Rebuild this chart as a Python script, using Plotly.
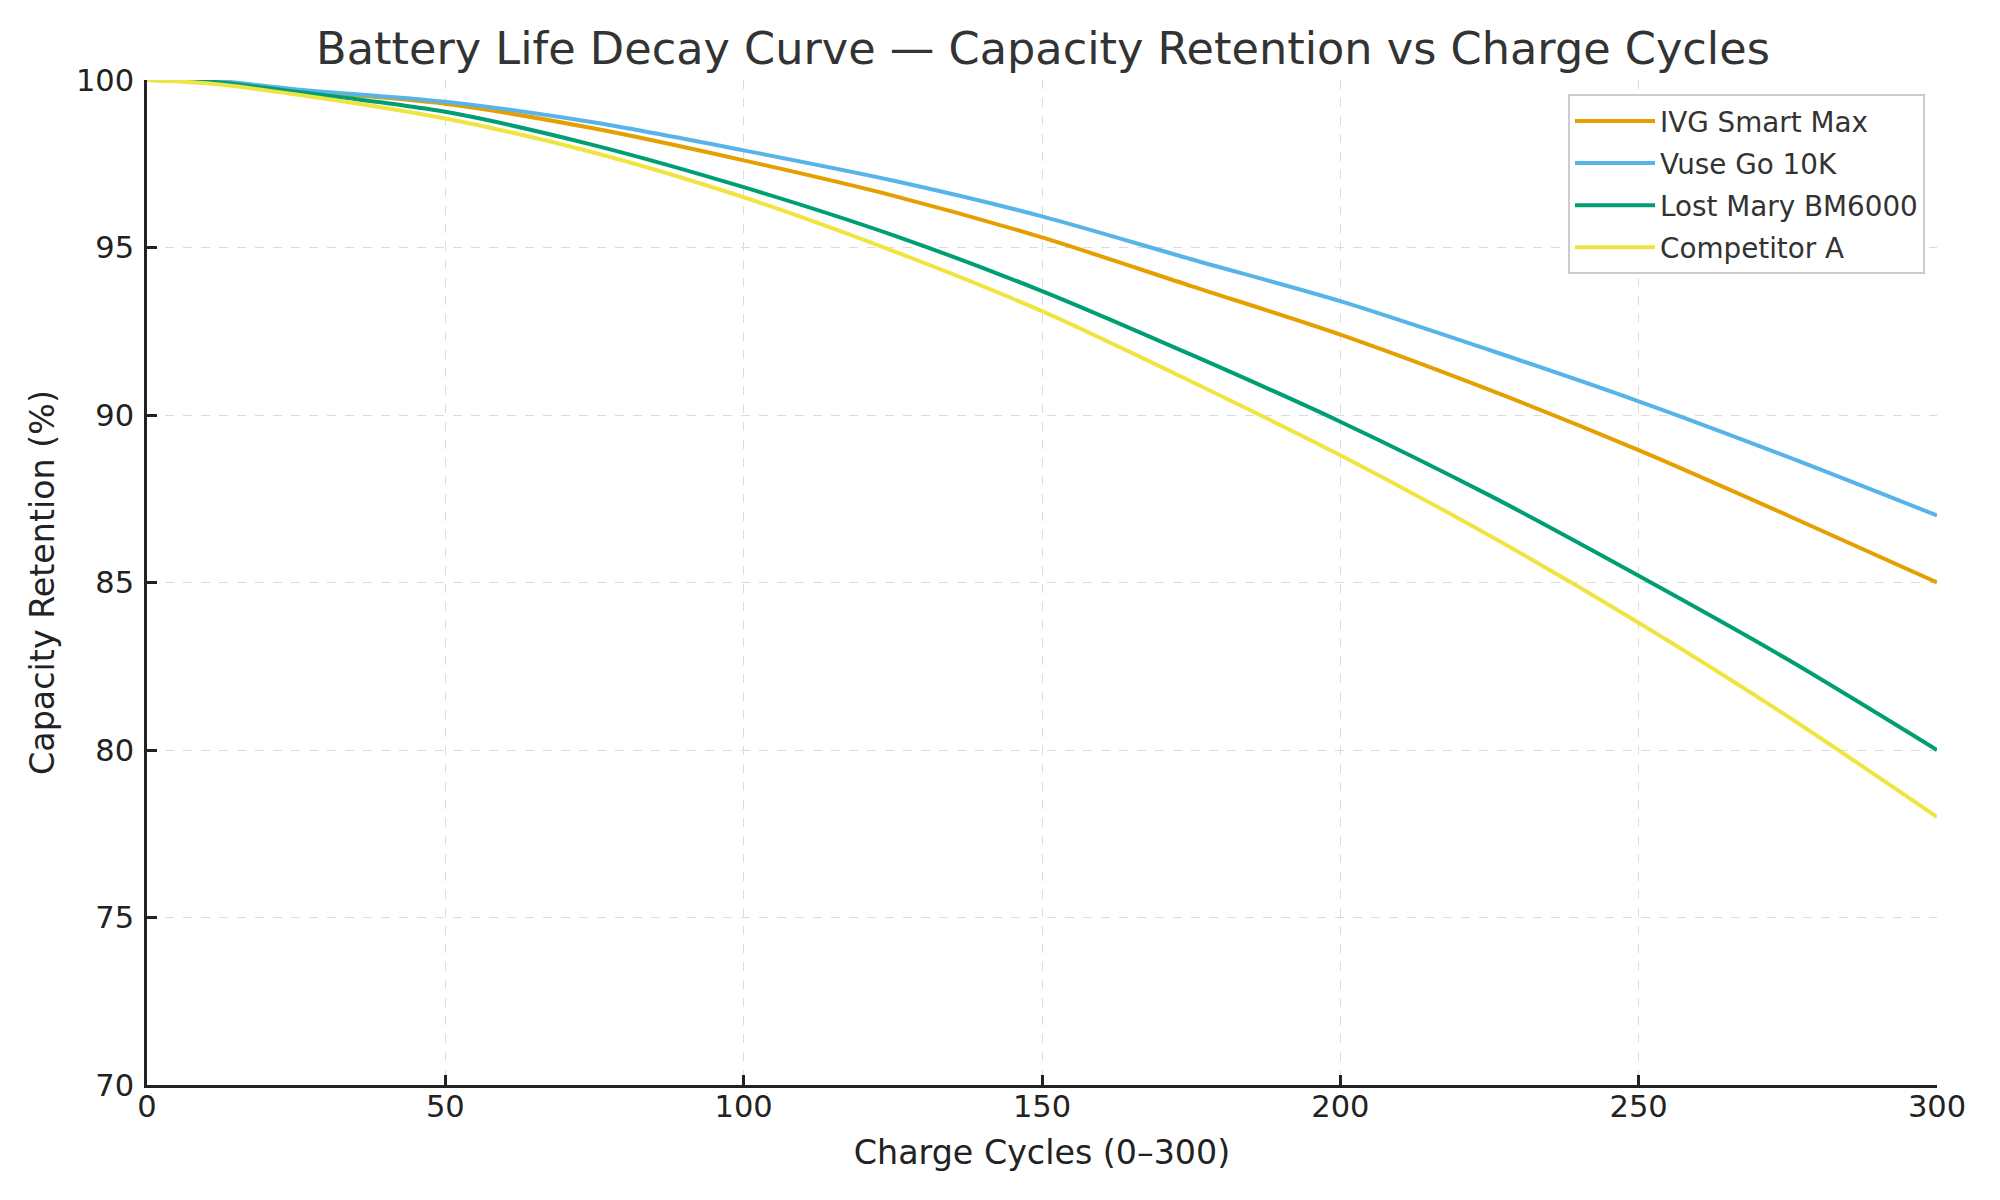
import plotly.graph_objects as go

cycles = [0, 10, 25, 50, 75, 100, 125, 150, 175, 200, 225, 250, 275, 300]
ivg_smart_max = [100, 99.97, 99.69, 99.29, 98.55, 97.6, 96.55, 95.3, 93.85, 92.4, 90.75, 88.95, 87.0, 85.0]
vuse_go_10k = [100, 100.0, 99.72, 99.35, 98.73, 97.9, 97.0, 95.93, 94.65, 93.4, 91.94, 90.41, 88.75, 87.0]
lost_mary_bm6000 = [100, 99.96, 99.65, 99.05, 98.05, 96.8, 95.37, 93.7, 91.8, 89.8, 87.6, 85.2, 82.7, 80.0]
competitor_a = [100, 99.9, 99.57, 98.85, 97.83, 96.5, 94.9, 93.1, 91.0, 88.8, 86.4, 83.8, 81.0, 78.0]

series = [
    ("IVG Smart Max", ivg_smart_max, "#E69F00"),
    ("Vuse Go 10K", vuse_go_10k, "#56B4E9"),
    ("Lost Mary BM6000", lost_mary_bm6000, "#009E73"),
    ("Competitor A", competitor_a, "#F0E442"),
]

x_ticks = [0, 50, 100, 150, 200, 250, 300]
y_ticks = [70, 75, 80, 85, 90, 95, 100]

fig = go.Figure()
for name, vals, color in series:
    fig.add_trace(go.Scatter(x=cycles, y=vals, mode="lines", name=name, legendgroup=name,
                             line=dict(color=color, width=4, shape="spline", smoothing=0.8)))

font_family = "DejaVu Sans"
fig.update_layout(
    width=2000, height=1200,
    margin=dict(l=147, r=63, t=80, b=115),
    paper_bgcolor="white", plot_bgcolor="white",
    font=dict(family=font_family, color="#222"),
    title=dict(text="Battery Life Decay Curve — Capacity Retention vs Charge Cycles",
               x=0.5215, xanchor="center", y=0.96, yanchor="middle",
               font=dict(size=44.6, color="#333", family=font_family)),
    showlegend=True,
    legend=dict(x=0.9933, xanchor="right", y=0.9857, yanchor="top",
                bgcolor="white", bordercolor="#cccccc", borderwidth=2,
                font=dict(size=27.8, color="#333", family=font_family),
                itemwidth=80, tracegroupgap=3),
)
fig.update_xaxes(
    range=[0, 300], tickvals=x_ticks, ticktext=[str(v) for v in x_ticks],
    showline=True, linecolor="#222", linewidth=2.5, mirror=False,
    ticks="inside", ticklen=10, tickwidth=2.5, tickcolor="#222",
    showgrid=True, gridcolor="#dcdcdc", gridwidth=1, griddash="dash",
    zeroline=False, tickfont=dict(size=30.5, color="#222"),
    title=dict(text="Charge Cycles (0–300)", font=dict(size=33.3, color="#222"), standoff=18),
    ticklabelstandoff=-7,
)
fig.update_yaxes(
    range=[70, 100], tickvals=y_ticks, ticktext=[str(v) for v in y_ticks],
    showline=True, linecolor="#222", linewidth=2.5, mirror=False,
    ticks="inside", ticklen=10, tickwidth=2.5, tickcolor="#222",
    showgrid=True, gridcolor="#dcdcdc", gridwidth=1, griddash="dash",
    zeroline=False, tickfont=dict(size=30.5, color="#222"),
    title=dict(text="Capacity Retention (%)", font=dict(size=33.3, color="#222"), standoff=12),
    ticklabelstandoff=4,
)

fig.write_html("out.html")
